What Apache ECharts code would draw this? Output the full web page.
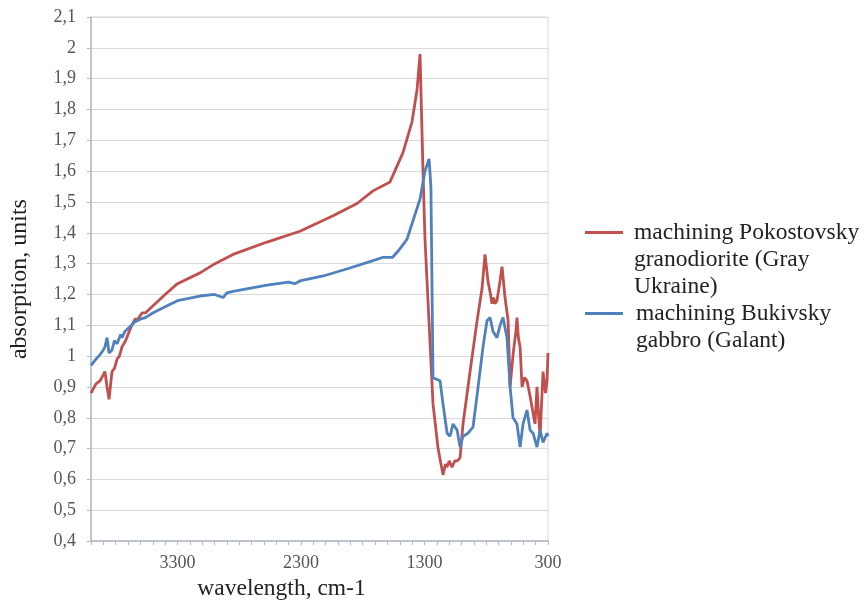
<!DOCTYPE html>
<html>
<head>
<meta charset="utf-8">
<script src="https://cdn.jsdelivr.net/npm/echarts@6/dist/echarts.min.js"></script>
<style>
  html, body { margin: 0; padding: 0; background: #fff; }
  #chart { width: 866px; height: 606px; }
</style>
</head>
<body>
<div id="chart"></div>
<script>
// spectra (wavenumber, absorption)
const redName = "machining Pokostovsky granodiorite (Gray Ukraine)";
const blueName = "machining Bukivsky gabbro (Galant)";

const redWave = [4000, 3960, 3927, 3887, 3870, 3854, 3830, 3810, 3789, 3770, 3749, 3720, 3700, 3670, 3644, 3620, 3587, 3560, 3506, 3400,
  3300, 3117, 2996, 2850, 2575, 2308, 2040, 1846, 1717, 1579, 1474, 1401, 1360, 1336, 1312, 1296, 1231, 1190, 1150, 1130,
  1117, 1100, 1077, 1055, 1036, 1012, 988, 931, 874, 834, 810, 785, 765, 753, 740, 729, 713, 690, 672, 660,
  648, 623, 607, 583, 560, 551, 540, 526, 510, 490, 470, 445, 405, 389, 375, 364, 340, 320, 308, 300];
const redAbs = [0.88, 0.91, 0.92, 0.95, 0.90, 0.86, 0.95, 0.96, 0.99, 1.00, 1.03, 1.05, 1.07, 1.10, 1.12, 1.12, 1.14, 1.14, 1.16, 1.20,
  1.235, 1.27, 1.30, 1.33, 1.37, 1.405, 1.455, 1.495, 1.536, 1.565, 1.66, 1.76, 1.865, 1.98, 1.60, 1.38, 0.845, 0.70, 0.615, 0.65,
  0.64, 0.66, 0.64, 0.66, 0.66, 0.67, 0.78, 0.95, 1.115, 1.22, 1.33, 1.24, 1.20, 1.17, 1.19, 1.17, 1.18, 1.24, 1.29, 1.24,
  1.19, 1.115, 0.90, 1.005, 1.08, 1.125, 1.06, 1.03, 0.90, 0.93, 0.92, 0.87, 0.78, 0.90, 0.80, 0.74, 0.95, 0.88, 0.92, 1.01];

const blueWave = [4000, 3960, 3927, 3900, 3887, 3870, 3854, 3830, 3810, 3789, 3760, 3749, 3725, 3700, 3670, 3650, 3600, 3560, 3500, 3400,
  3300, 3117, 3000, 2930, 2900, 2850, 2575, 2400, 2350, 2300, 2120, 1910, 1717, 1640, 1560, 1515, 1458, 1441, 1336, 1296,
  1263, 1248, 1231, 1174, 1150, 1117, 1093, 1069, 1036, 1012, 988, 947, 907, 866, 826, 794, 769, 745, 713, 688,
  664, 632, 607, 583, 551, 526, 502, 470, 445, 421, 389, 364, 340, 308, 300];
const blueAbs = [0.97, 0.99, 1.005, 1.02, 1.03, 1.06, 1.01, 1.02, 1.05, 1.04, 1.07, 1.06, 1.08, 1.09, 1.10, 1.11, 1.12, 1.125, 1.14, 1.16,
  1.18, 1.195, 1.20, 1.19, 1.205, 1.21, 1.23, 1.24, 1.235, 1.245, 1.26, 1.285, 1.31, 1.32, 1.32, 1.34, 1.37, 1.38, 1.51, 1.60,
  1.64, 1.55, 0.93, 0.92, 0.845, 0.75, 0.74, 0.78, 0.76, 0.705, 0.74, 0.75, 0.77, 0.90, 1.03, 1.115, 1.125, 1.08, 1.06, 1.10,
  1.125, 1.06, 0.90, 0.80, 0.78, 0.705, 0.78, 0.825, 0.76, 0.75, 0.705, 0.76, 0.72, 0.75, 0.74];

const xTickLabels = [3300, 2300, 1300, 300];

const serif = "'Liberation Serif', 'Times New Roman', serif";
const zip = (xs, ys) => xs.map((x, i) => [x, ys[i]]);

const chart = echarts.init(document.getElementById("chart"));

chart.setOption({
  animation: false,
  backgroundColor: "#fff",
  grid: { left: 91, right: 318, top: 17, bottom: 61, show: true, borderColor: "#d9d9d9", borderWidth: 1 },
  legend: [
    {
      data: [redName], left: 585, top: 165, padding: 0, orient: "vertical",
      icon: "rect", itemWidth: 38, itemHeight: 3,
      formatter: () => "\n\nmachining Pokostovsky\ngranodiorite (Gray\nUkraine)",
      textStyle: { fontFamily: serif, fontSize: 23.5, lineHeight: 27, color: "#222", padding: [0, 0, 0, 6] }
    },
    {
      data: [blueName], left: 585, top: 273, padding: 0, orient: "vertical",
      icon: "rect", itemWidth: 38, itemHeight: 3,
      formatter: () => "\nmachining Bukivsky\ngabbro (Galant)",
      textStyle: { fontFamily: serif, fontSize: 23.5, lineHeight: 27, color: "#222", padding: [0, 0, 0, 8] }
    }
  ],
  xAxis: {
    type: "value", inverse: true, min: 300, max: 4000, interval: 100,
    name: "wavelength, cm-1", nameLocation: "middle", nameGap: 31,
    nameTextStyle: { fontFamily: serif, fontSize: 23.5, color: "#222", padding: [0, 76, 0, 0] },
    axisLine: { lineStyle: { color: "#b0b8c6", width: 1.5 } },
    axisTick: { show: true, length: 4, lineStyle: { color: "#b0b8c6" } },
    splitLine: { show: false },
    axisLabel: {
      margin: 13, fontFamily: serif, fontSize: 18, color: "#555",
      formatter: v => (xTickLabels.indexOf(Math.round(v)) >= 0 ? String(Math.round(v)) : "")
    }
  },
  yAxis: {
    type: "value", min: 0.4, max: 2.1, interval: 0.1,
    name: "absorption, units", nameLocation: "middle", nameGap: 59,
    nameTextStyle: { fontFamily: serif, fontSize: 24, color: "#222" },
    axisLine: { show: true, lineStyle: { color: "#b0b8c6", width: 1.5 } },
    axisTick: { show: true, length: 4, lineStyle: { color: "#b0b8c6" } },
    splitLine: { lineStyle: { color: "#d9d9d9", width: 1 } },
    axisLabel: {
      margin: 15, fontFamily: serif, fontSize: 18, color: "#555",
      formatter: v => String(+v.toFixed(1)).replace(".", ",")
    }
  },
  series: [
    { name: redName, type: "line", data: zip(redWave, redAbs), symbol: "none", lineStyle: { color: "#c0504d", width: 2.8 }, itemStyle: { color: "#c0504d" } },
    { name: blueName, type: "line", data: zip(blueWave, blueAbs), symbol: "none", lineStyle: { color: "#4f81bd", width: 2.8 }, itemStyle: { color: "#4f81bd" } }
  ]
});
</script>
</body>
</html>
